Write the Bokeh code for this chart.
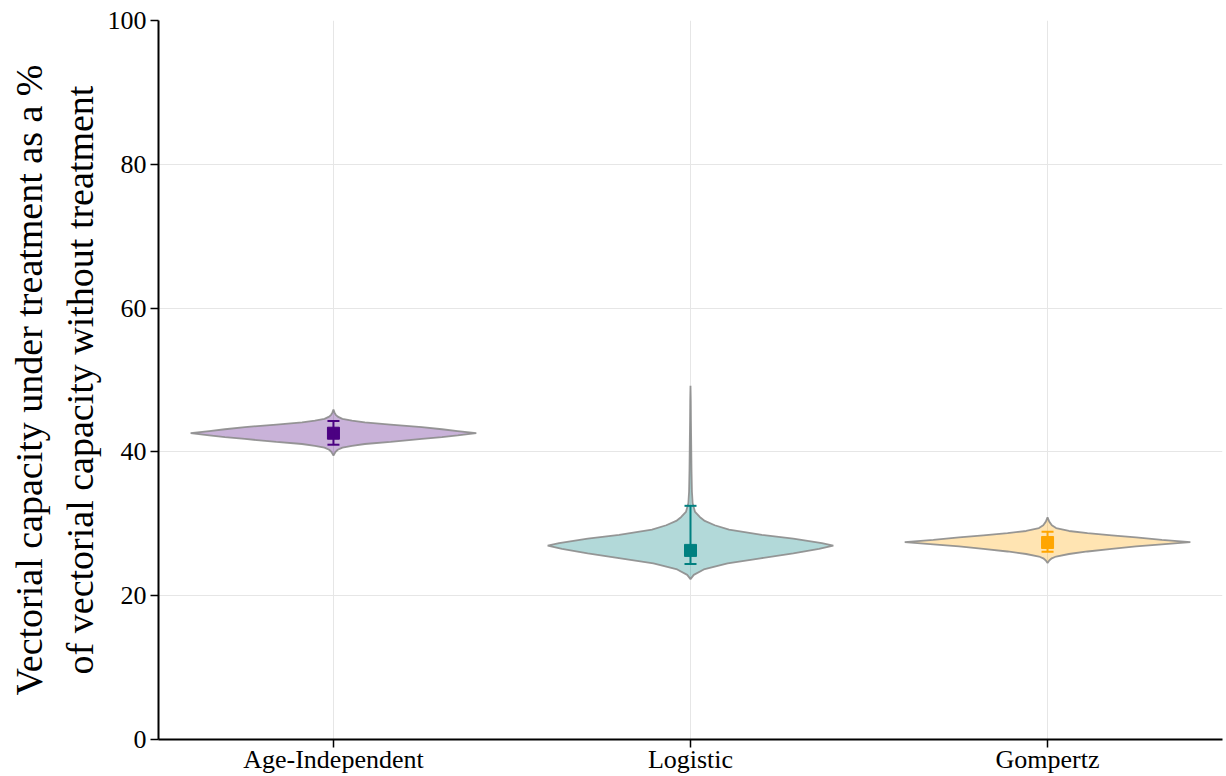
import numpy as np
from bokeh.plotting import figure
from bokeh.models import Whisker, ColumnDataSource, FixedTicker, TeeHead, Range1d
from bokeh.embed import file_html
from bokeh.resources import INLINE

# ---- data ----
categories = ["Age-Independent", "Logistic", "Gompertz"]
colors = ["#4B0082", "#008080", "#FFA500"]

# violin density profiles (y value, relative half-width)
age_y = [39.5, 40.0, 40.3, 40.6, 40.85, 41.1, 41.4, 41.8, 42.05, 42.3, 42.6,
         42.9, 43.15, 43.45, 43.8, 44.1, 44.35, 44.6, 44.9, 45.2, 45.5, 45.9]
age_w = [0, 0.015, 0.03, 0.063, 0.13, 0.22, 0.4, 0.62, 0.76, 0.87, 1.0,
         0.87, 0.76, 0.62, 0.4, 0.22, 0.13, 0.063, 0.03, 0.015, 0.007, 0]

log_y = [22.3, 22.9, 23.65, 24.5, 25.2, 25.9, 26.5, 26.95, 27.3, 27.95, 28.45,
         29.2, 29.8, 30.4, 30.95, 31.65, 32.85, 34.5, 37.5, 41.0, 44.4, 47.0, 49.2]
log_w = [0, 0.023, 0.093, 0.26, 0.49, 0.72, 0.9, 1.0, 0.92, 0.72, 0.5,
         0.27, 0.17, 0.1, 0.065, 0.032, 0.015, 0.01, 0.007, 0.005, 0.003, 0.002, 0]

gom_y = [24.55, 24.9, 25.2, 25.45, 25.8, 26.15, 26.5, 26.85, 27.15, 27.45,
         27.75, 28.1, 28.4, 28.7, 29.0, 29.4, 29.8, 30.3, 30.9]
gom_w = [0, 0.012, 0.03, 0.06, 0.15, 0.28, 0.45, 0.62, 0.8, 1.0,
         0.8, 0.62, 0.45, 0.28, 0.15, 0.06, 0.03, 0.012, 0]

# point estimates and intervals
point = [42.6, 26.3, 27.4]
lower = [41.0, 24.4, 26.1]
upper = [44.3, 32.5, 28.9]

y_ticks = [0, 20, 40, 60, 80, 100]

# ---- figure ----
FONT = "Liberation Serif"
p = figure(width=1226, height=776, x_range=Range1d(-0.49, 2.49), y_range=Range1d(0, 100),
           output_backend="svg", toolbar_location=None,
           min_border_left=158, min_border_right=4, min_border_top=20, min_border_bottom=36)
p.outline_line_color = None
p.background_fill_color = "white"

p.xaxis.ticker = FixedTicker(ticks=[0, 1, 2])
p.xaxis.major_label_overrides = {i: c for i, c in enumerate(categories)}
p.yaxis.ticker = FixedTicker(ticks=y_ticks)

for ax in (p.xaxis, p.yaxis):
    ax.minor_tick_line_color = None
    ax.major_tick_in = 0
    ax.major_tick_out = 8
    ax.major_tick_line_width = 1.5
    ax.axis_line_width = 2
    ax.axis_line_color = "black"
    ax.major_tick_line_color = "black"
    ax.major_label_text_font = FONT
    ax.major_label_text_font_size = "26px"
    ax.major_label_text_color = "black"
    ax.major_label_standoff = 4
p.xaxis.major_label_standoff = -3

p.yaxis.axis_label = "Vectorial capacity under treatment as a %\nof vectorial capacity without treatment"
p.yaxis.axis_label_text_font = FONT
p.yaxis.axis_label_text_font_size = "38px"
p.yaxis.axis_label_text_font_style = "normal"
p.yaxis.axis_label_text_color = "black"
p.yaxis.axis_label_standoff = 4

p.xgrid.ticker = FixedTicker(ticks=[0, 1, 2])
p.grid.grid_line_color = "#e6e6e6"
p.grid.grid_line_width = 1

HALF = 0.4
profiles = [(age_y, age_w), (log_y, log_w), (gom_y, gom_w)]
for i, ((ys, ws), c) in enumerate(zip(profiles, colors)):
    ys = np.asarray(ys, dtype=float)
    ws = np.asarray(ws, dtype=float) * HALF
    xs = np.concatenate([i - ws, (i + ws)[::-1]])
    yy = np.concatenate([ys, ys[::-1]])
    p.patch(xs, yy, fill_color=c, fill_alpha=0.3, line_color="#8c8c8c",
            line_width=1.8, line_alpha=0.9)

for i, c in enumerate(colors):
    src = ColumnDataSource(dict(x=[i], lo=[lower[i]], hi=[upper[i]]))
    w = Whisker(base="x", lower="lo", upper="hi", source=src, dimension="height",
                line_color=c, line_width=2, level="overlay",
                upper_head=TeeHead(size=12, line_color=c, line_width=2),
                lower_head=TeeHead(size=12, line_color=c, line_width=2))
    p.add_layout(w)
    p.scatter(x=[i], y=[point[i]], marker="square", size=12, color=c)

open("out.html", "w").write(file_html(p, INLINE))
